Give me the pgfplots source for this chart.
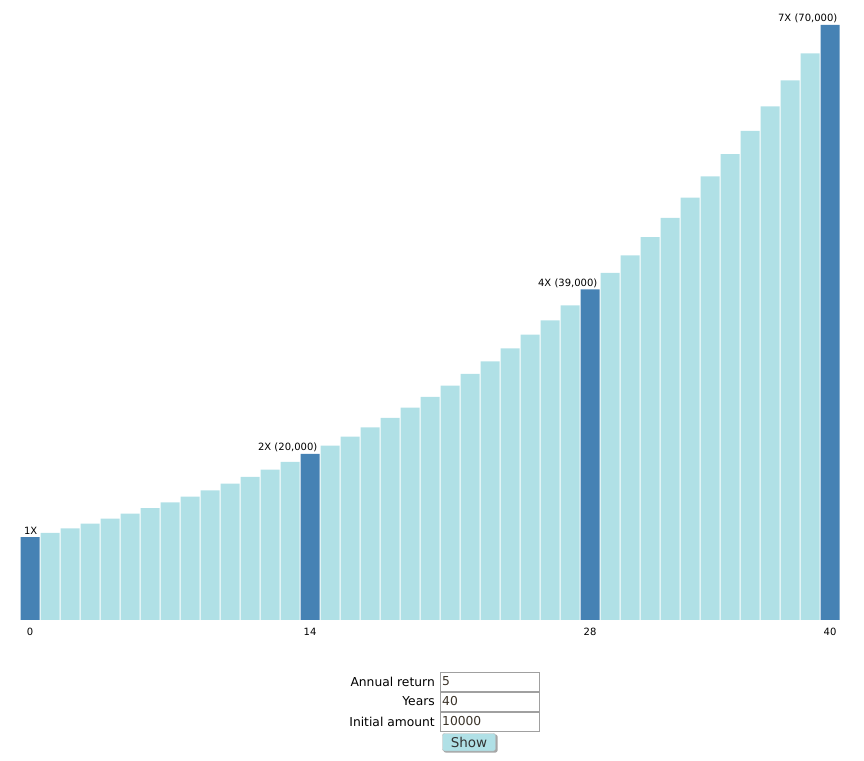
\documentclass[border=0pt]{standalone}
\usepackage{pgfplots}
\pgfplotsset{compat=1.18}
\usepackage{fontspec}
\setmainfont{DejaVu Sans}
\definecolor{lightbar}{HTML}{B0E0E6}
\definecolor{darkbar}{HTML}{4682B4}
\definecolor{boxgray}{HTML}{A0A0A0}
\definecolor{inputtext}{HTML}{3A3228}
\begin{document}
\begin{tikzpicture}[x=1pt,y=1pt]
\path[use as bounding box] (0,0) rectangle (864,760);
\begin{axis}[
  at={(20pt,140pt)}, anchor=south west,
  scale only axis, width=820pt, height=595pt,
  xmin=-0.5, xmax=40.5, ymin=209, ymax=70400,
  axis line style={draw=none},
  major tick length=0pt,
  ytick=\empty,
  xtick={0,14,28,40},
  /pgf/number format/assume math mode=true,
  xticklabel style={font=\fontsize{10}{12}\selectfont, text=black, yshift=-5pt},
  ybar, bar width=0.95, bar shift=0pt,
  clip=false,
]
\addplot[fill=lightbar, draw=none] coordinates {
(1,10500) (2,11025) (3,11576) (4,12155) (5,12763) (6,13401) (7,14071)
(8,14775) (9,15513) (10,16289) (11,17103) (12,17959) (13,18856)
(15,20789) (16,21829) (17,22920) (18,24066) (19,25270) (20,26533)
(21,27860) (22,29253) (23,30715) (24,32251) (25,33864) (26,35557) (27,37335)
(29,41161) (30,43219) (31,45380) (32,47649) (33,50032) (34,52533)
(35,55160) (36,57918) (37,60814) (38,63855) (39,67048)
};
\addplot[fill=darkbar, draw=none,
  point meta=explicit symbolic,
  nodes near coords,
  every node near coord/.style={anchor=base east, inner sep=0pt, xshift=7.5pt, yshift=3pt, font=\fontsize{10}{12}\selectfont, text=black}
] coordinates {
(0,10000) [1X]
(14,19799) [2X (20,000)]
(28,39201) [4X (39,000)]
(40,70400) [7X (70,000)]
};
\end{axis}
% form
\begin{scope}[font=\fontsize{12.3}{14}\selectfont]
\node[anchor=east, inner sep=0pt] at (435,78.5) {Annual return};
\node[anchor=east, inner sep=0pt] at (435,58.5) {Years};
\node[anchor=east, inner sep=0pt] at (435,38.5) {Initial amount};
\draw[boxgray] (440.5,87.5) rectangle (539.5,68.5);
\draw[boxgray] (440.5,67.5) rectangle (539.5,48.5);
\draw[boxgray] (440.5,47.5) rectangle (539.5,28.5);
\node[anchor=west, inner sep=0pt, text=inputtext] at (442,78.5) {5};
\node[anchor=west, inner sep=0pt, text=inputtext] at (442,58.5) {40};
\node[anchor=west, inner sep=0pt, text=inputtext] at (442,38.5) {10000};
\fill[gray!70, rounded corners=2pt] (443.5,25.5) rectangle (497.5,7.5);
\draw[boxgray!80, fill=lightbar, rounded corners=2pt] (442.5,26.5) rectangle (495.5,9);
\node[inner sep=0pt, text=black!80, font=\fontsize{13.5}{15}\selectfont] at (469,17.5) {Show};
\end{scope}
\end{tikzpicture}
\end{document}
